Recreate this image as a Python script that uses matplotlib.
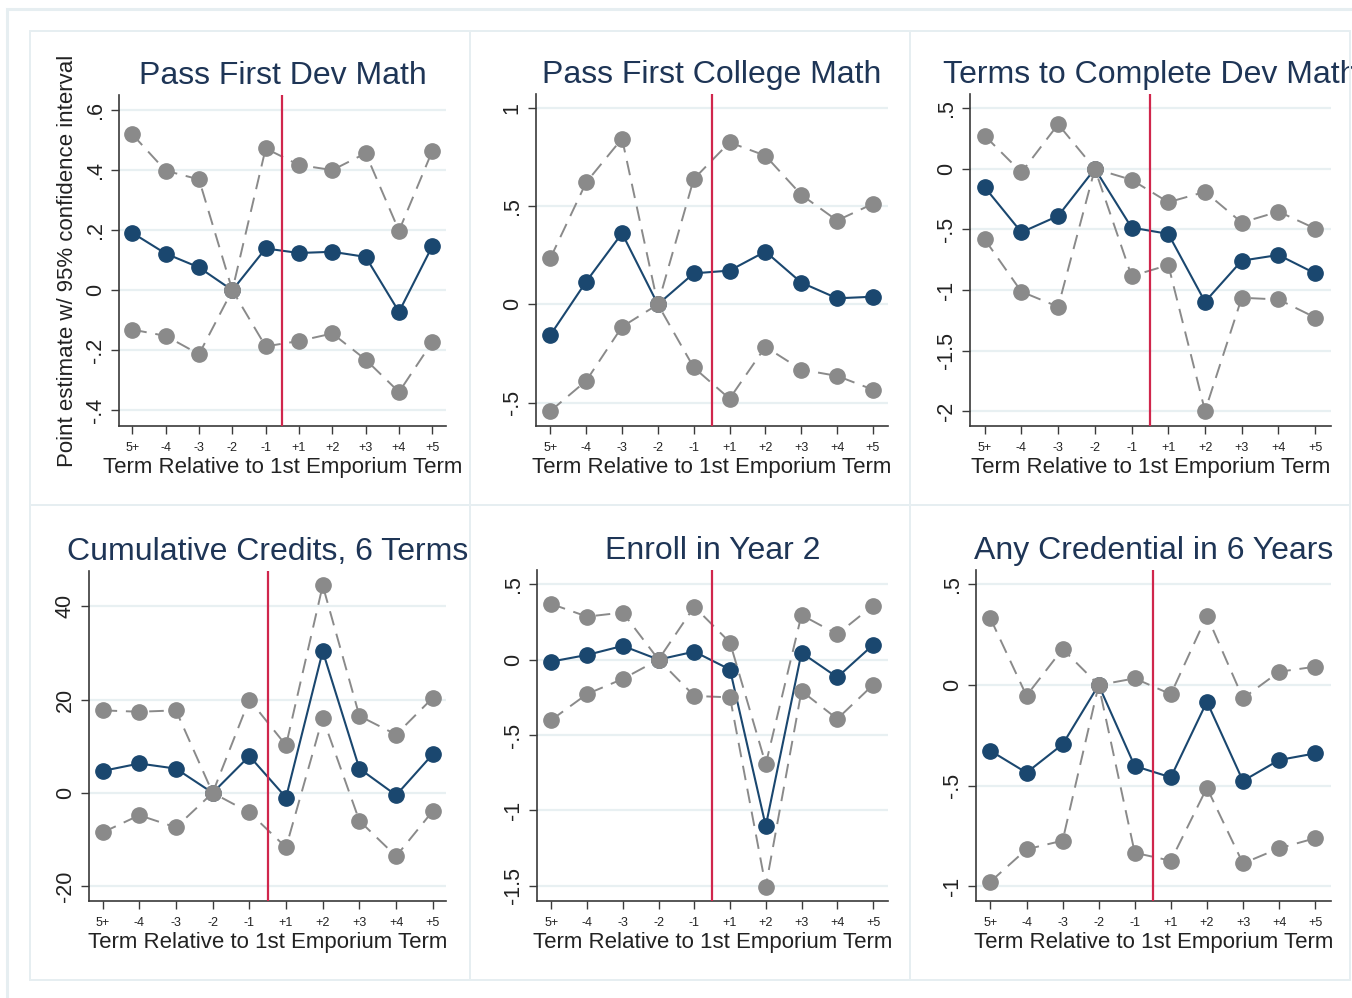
import matplotlib
matplotlib.use("Agg")
import matplotlib.pyplot as plt
from matplotlib.patches import Rectangle

plt.rcParams['font.family'] = ['Liberation Sans', 'DejaVu Sans']

# ---------------- data ----------------
terms = ["5+", "-4", "-3", "-2", "-1", "+1", "+2", "+3", "+4", "+5"]
titles = ["Pass First Dev Math", "Pass First College Math", "Terms to Complete Dev Math",
          "Cumulative Credits, 6 Terms", "Enroll in Year 2", "Any Credential in 6 Years"]

est_dev_math = [0.191, 0.122, 0.076, 0.0, 0.139, 0.124, 0.128, 0.111, -0.072, 0.147]
hi_dev_math = [0.519, 0.398, 0.369, 0.0, 0.472, 0.417, 0.400, 0.456, 0.198, 0.464]
lo_dev_math = [-0.131, -0.152, -0.213, 0.0, -0.187, -0.169, -0.144, -0.231, -0.339, -0.172]

est_col_math = [-0.156, 0.116, 0.362, 0.0, 0.158, 0.172, 0.269, 0.111, 0.031, 0.039]
hi_col_math = [0.235, 0.621, 0.844, 0.0, 0.638, 0.825, 0.757, 0.558, 0.427, 0.512]
lo_col_math = [-0.543, -0.389, -0.114, 0.0, -0.321, -0.480, -0.216, -0.332, -0.364, -0.434]

est_terms = [-0.152, -0.524, -0.389, 0.0, -0.485, -0.537, -1.097, -0.758, -0.711, -0.863]
hi_terms = [0.273, -0.030, 0.367, 0.0, -0.091, -0.276, -0.190, -0.444, -0.353, -0.493]
lo_terms = [-0.582, -1.014, -1.138, 0.0, -0.885, -0.794, -1.998, -1.064, -1.078, -1.227]

est_credits = [4.7, 6.3, 5.2, 0.0, 7.9, -1.0, 30.4, 5.2, -0.5, 8.3]
hi_credits = [17.7, 17.4, 17.7, 0.0, 20.0, 10.2, 44.5, 16.5, 12.5, 20.4]
lo_credits = [-8.5, -4.8, -7.4, 0.0, -4.2, -11.7, 16.1, -6.0, -13.6, -3.9]

est_enroll = [-0.013, 0.031, 0.091, 0.0, 0.053, -0.066, -1.103, 0.046, -0.117, 0.097]
hi_enroll = [0.369, 0.285, 0.312, 0.0, 0.351, 0.113, -0.694, 0.296, 0.168, 0.358]
lo_enroll = [-0.400, -0.228, -0.128, 0.0, -0.241, -0.250, -1.505, -0.208, -0.393, -0.168]

est_cred6 = [-0.327, -0.436, -0.295, 0.0, -0.403, -0.459, -0.083, -0.477, -0.373, -0.340]
hi_cred6 = [0.331, -0.053, 0.179, 0.0, 0.033, -0.046, 0.345, -0.066, 0.066, 0.091]
lo_cred6 = [-0.978, -0.817, -0.774, 0.0, -0.834, -0.874, -0.511, -0.887, -0.812, -0.762]

ytick_vals = [[-0.4, -0.2, 0, 0.2, 0.4, 0.6], [-0.5, 0, 0.5, 1],
              [-2, -1.5, -1, -0.5, 0, 0.5], [-20, 0, 20, 40],
              [-1.5, -1, -0.5, 0, 0.5], [-1, -0.5, 0, 0.5]]
ytick_labels = [["-.4", "-.2", "0", ".2", ".4", ".6"], ["-.5", "0", ".5", "1"],
                ["-2", "-1.5", "-1", "-.5", "0", ".5"], ["-20", "0", "20", "40"],
                ["-1.5", "-1", "-.5", "0", ".5"], ["-1", "-.5", "0", ".5"]]

xlabel = "Term Relative to 1st Emporium Term"
ylabel = "Point estimate w/ 95% confidence interval"

# ---------------- layout ----------------
W, H = 1352, 998
fig = plt.figure(figsize=(W / 100, H / 100), dpi=100)
fig.patch.set_facecolor("white")

def frac(l, t, r, b):
    return [l / W, 1 - b / H, (r - l) / W, (b - t) / H]

# panel borders and outer frame
border_col = "#e6eef1"
fig.add_artist(Rectangle((7 / W, -0.05), 1.1, 1 - 9 / H + 0.05, transform=fig.transFigure,
                         fill=False, ec=border_col, lw=2.2))
for (l, t, r, b) in [(30, 31, 470, 505), (470, 31, 910, 505), (910, 31, 1350, 505),
                     (30, 505, 470, 980), (470, 505, 910, 980), (910, 505, 1350, 980)]:
    fig.add_artist(Rectangle((l / W, 1 - b / H), (r - l) / W, (b - t) / H,
                             transform=fig.transFigure, fill=False, ec=border_col, lw=1.4))

axes_px = [(119, 95, 446, 426), (536, 94, 888, 426), (970, 94, 1331, 426),
           (89, 571, 446, 901), (537, 570, 888, 901), (976, 570, 1331, 901)]
ylims = [(-0.452, 0.65), (-0.619, 1.071), (-2.122, 0.617),
         (-23.2, 47.6), (-1.6, 0.594), (-1.074, 0.572)]
xlims = [(0.6, 10.41), (0.6, 10.42), (0.6, 10.43), (0.63, 10.36), (0.6, 10.42), (0.6, 10.44)]

series = [(est_dev_math, lo_dev_math, hi_dev_math),
          (est_col_math, lo_col_math, hi_col_math),
          (est_terms, lo_terms, hi_terms),
          (est_credits, lo_credits, hi_credits),
          (est_enroll, lo_enroll, hi_enroll),
          (est_cred6, lo_cred6, hi_cred6)]

navy = "#1a476f"
grey = "#8a8a8a"
red = "#d0264c"
title_col = "#1e3556"
axis_col = "#3a3a3a"
grid_col = "#e8f0f2"

xpos = list(range(1, len(terms) + 1))

for i, (est, lo, hi) in enumerate(series):
    l, t, r, b = axes_px[i]
    ax = fig.add_axes(frac(l, t, r, b))
    ax.set_facecolor("none")
    h = b - t
    ax.set_xlim(*xlims[i])
    ax.set_ylim(*ylims[i])
    ax.set_yticks(ytick_vals[i])
    ax.set_yticklabels(ytick_labels[i])
    ax.set_xticks(xpos)
    ax.set_xticklabels(terms)
    for s in ["top", "right"]:
        ax.spines[s].set_visible(False)
    for s in ["left", "bottom"]:
        ax.spines[s].set_color(axis_col)
        ax.spines[s].set_linewidth(1.2)
    ax.tick_params(axis="y", direction="out", length=5.5, width=1.0, color=axis_col,
                   labelsize=15.5, labelcolor="#222222", labelrotation=90, pad=4)
    ax.tick_params(axis="x", direction="out", length=5.5, width=1.0, color=axis_col,
                   labelsize=9, labelcolor="#222222", pad=6)
    for lab in ax.get_yticklabels():
        lab.set_va("center")
    ax.yaxis.grid(True, color=grid_col, lw=1.6, zorder=0)
    ax.set_axisbelow(True)

    ax.plot(xpos, est, color=navy, lw=1.5, marker="o", ms=11, mfc=navy, mec=navy, zorder=3)
    ax.plot(xpos, hi, color=grey, lw=1.4, ls=(0, (7.5, 4.5)), marker="o", ms=11,
            mfc=grey, mec=grey, zorder=4)
    ax.plot(xpos, lo, color=grey, lw=1.4, ls=(0, (7.5, 4.5)), marker="o", ms=11,
            mfc=grey, mec=grey, zorder=4)
    ax.axvline(5.5, color=red, lw=1.6, zorder=6)

    ax.text(0.5, 1 + 11 / h, titles[i], transform=ax.transAxes, ha="center", va="baseline",
            fontsize=23, color=title_col)
    ax.text(0.5, -47 / h, xlabel, transform=ax.transAxes, ha="center", va="baseline",
            fontsize=16, color="#222222")
    if i == 0:
        ax.text((67 - l) / (r - l), 0.5, ylabel, transform=ax.transAxes, ha="center",
                va="center", rotation=90, fontsize=16, color="#222222")

fig.savefig("out.png", dpi=100)
